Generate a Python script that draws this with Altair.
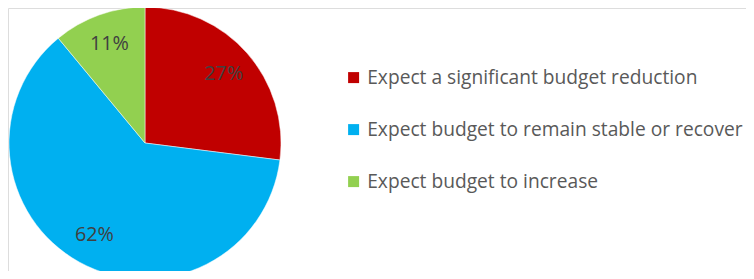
import altair as alt
import pandas as pd

categories = [
    "Expect a significant budget reduction",
    "Expect budget to remain stable or recover",
    "Expect budget to increase",
]
values = [27, 62, 11]
colors = ["#C00000", "#00B0F0", "#92D050"]

df = pd.DataFrame({
    "category": categories,
    "value": values,
    "order": list(range(len(categories))),
    "label": [f"{v}%" for v in values],
})

FONT = "Open Sans"

base = alt.Chart(df).encode(
    theta=alt.Theta("value:Q", stack=True),
    order=alt.Order("order:Q"),
    x=alt.value(137),
    y=alt.value(135),
)

pie = base.mark_arc(outerRadius=136, stroke="white", strokeWidth=0.5).encode(
    color=alt.Color(
        "category:N",
        scale=alt.Scale(domain=categories, range=colors),
        sort=categories,
        legend=alt.Legend(
            title=None,
            orient="none",
            legendX=336,
            legendY=60,
            symbolType="square",
            symbolSize=121,
            symbolStrokeWidth=0,
            labelFontSize=19.2,
            labelFont=FONT,
            labelColor="#595959",
            labelOffset=4,
            rowPadding=32,
            labelLimit=500,
        ),
    )
)

text = base.mark_text(radius=105, fontSize=19.8, font=FONT, color="#404040").encode(
    text="label:N"
)

chart = (pie + text).properties(
    width=738,
    height=263,
    autosize=alt.AutoSizeParams(type="none"),
    padding=0,
).configure_view(strokeWidth=0).configure(background="white")

chart.save("out.html", embed_options={"renderer": "svg", "actions": False})
